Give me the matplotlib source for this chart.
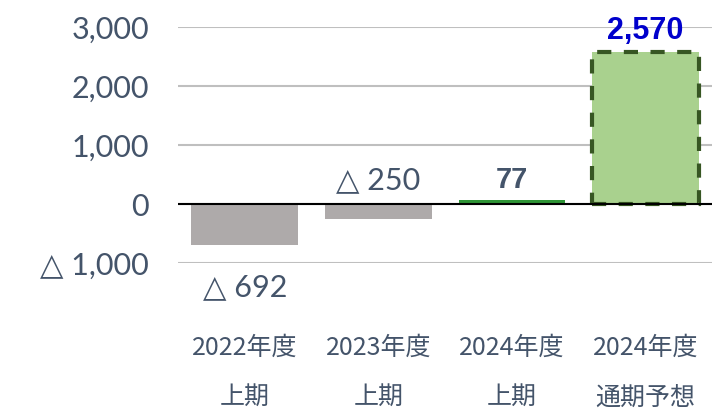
import matplotlib.pyplot as plt
from matplotlib.ticker import FuncFormatter

plt.rcParams['font.family'] = ['Noto Sans CJK JP', 'DejaVu Sans']

# data
periods = ['2022年度\n上期', '2023年度\n上期', '2024年度\n上期', '2024年度\n通期予想']
values = [-692, -250, 77, 2570]
yticks = [-1000, 0, 1000, 2000, 3000]

slate = '#44546A'

fig = plt.figure(figsize=(7.21, 4.11), dpi=100)
ax = fig.add_axes([0.247, 0.36, 0.741, 0.574])

x = list(range(len(values)))
ax.bar(x[:2], values[:2], width=0.8, color='#AEAAAA', zorder=2)
ax.bar(x[2], values[2], width=0.8, color='#2E9436', zorder=2)
ax.bar(x[3], values[3], width=0.8, color='#A9D18E', edgecolor='#375623',
       linestyle=(0, (3.4, 3.0)), linewidth=3, zorder=2)

ax.axhline(0, color='black', lw=1.5, zorder=3)

ax.set_ylim(-1000, 3000)
ax.set_xlim(-0.5, 3.5)
ax.set_yticks(yticks)
ax.yaxis.grid(True, color='#BFBFBF', lw=1.5, zorder=0)
ax.yaxis.set_major_formatter(FuncFormatter(
    lambda v, p: '△ {:,.0f}'.format(-v) if v < 0 else '{:,.0f}'.format(v)))
ax.tick_params(axis='y', length=0, pad=21, labelsize=22, labelcolor=slate)
ax.set_xticks(x)
ax.set_xticklabels(periods, linespacing=2.15)
ax.tick_params(axis='x', length=0, pad=52, labelsize=18, labelcolor=slate)
for lbl in ax.get_yticklabels():
    lbl.set_family(['Lato', 'DejaVu Sans'])
for s in ax.spines.values():
    s.set_visible(False)

# data labels
ax.text(x[0], values[0] - 720, '△ {}'.format(-values[0]), ha='center', va='center',
        fontsize=22, color=slate, family=['Lato', 'DejaVu Sans'])
ax.text(x[1], 400, '△ {}'.format(-values[1]), ha='center', va='center',
        fontsize=22, color=slate, family=['Lato', 'DejaVu Sans'])
ax.text(x[2], 400, '{}'.format(values[2]), ha='center', va='center',
        fontsize=21, color=slate, fontweight='bold', family=['Liberation Sans'])
ax.text(x[3], values[3] + 370, '{:,}'.format(values[3]), ha='center', va='center',
        fontsize=22, color='#0000CC', fontweight='bold', family=['Liberation Sans'])

fig.savefig('out.png', dpi=100)
